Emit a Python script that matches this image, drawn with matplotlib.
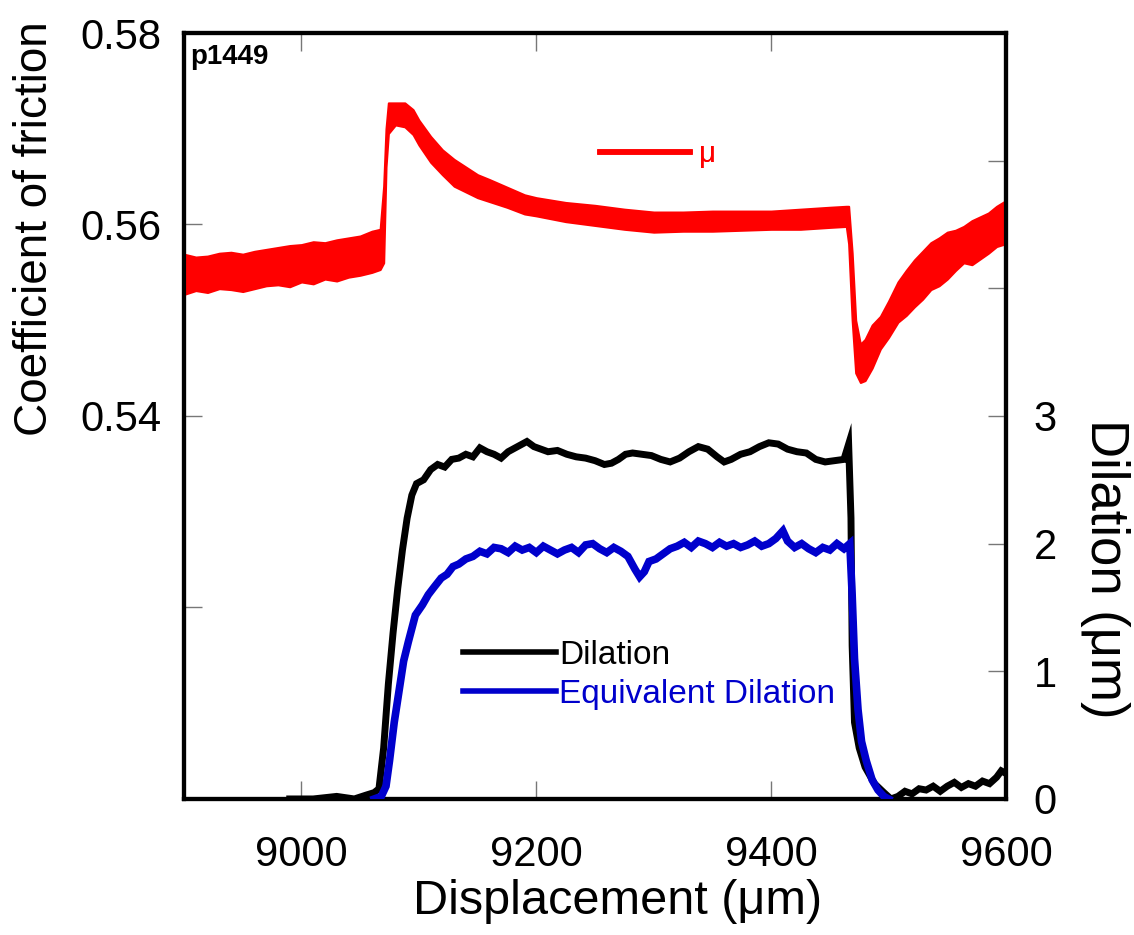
"""Friction / dilation record for p1449 around a velocity step."""

import matplotlib

matplotlib.use("Agg")
import matplotlib.pyplot as plt
from matplotlib.lines import Line2D
from matplotlib.ticker import FixedLocator, FixedFormatter

plt.rcParams["font.family"] = ["Liberation Sans", "DejaVu Sans"]

# coefficient of friction, read as the lower/upper edge of the noisy band
MU_X = [8900, 8910, 8920, 8930, 8940, 8950, 8960, 8970, 8980, 8990, 9000, 9010, 9020, 9030,
        9040, 9050, 9060, 9067, 9070, 9072, 9074, 9080, 9088, 9095, 9100, 9110, 9120, 9130,
        9140, 9150, 9160, 9175, 9190, 9200, 9225, 9250, 9275, 9300, 9325, 9350, 9375, 9400,
        9425, 9450, 9464, 9466, 9469, 9472, 9476, 9480, 9486, 9493, 9500, 9508, 9515, 9522,
        9529, 9536, 9543, 9550, 9557, 9564, 9571, 9578, 9585, 9592, 9600]
MU_LO = [0.5527, 0.5531, 0.5529, 0.5533, 0.5532, 0.5530, 0.5533, 0.5536, 0.5537, 0.5535,
         0.5540, 0.5538, 0.5543, 0.5541, 0.5545, 0.5547, 0.5550, 0.5553, 0.5560, 0.5660,
         0.5695, 0.5704, 0.5702, 0.5694, 0.5683, 0.5665, 0.5652, 0.5640, 0.5634, 0.5628,
         0.5624, 0.5618, 0.5611, 0.5609, 0.5603, 0.5599, 0.5595, 0.5592, 0.5593, 0.5593,
         0.5594, 0.5595, 0.5595, 0.5597, 0.5598, 0.5580, 0.5500, 0.5445, 0.5435, 0.5437,
         0.5450, 0.5470, 0.5482, 0.5498, 0.5505, 0.5514, 0.5522, 0.5532, 0.5536, 0.5543,
         0.5552, 0.5560, 0.5558, 0.5564, 0.5570, 0.5577, 0.5580]
MU_HI = [0.5569, 0.5566, 0.5567, 0.5570, 0.5571, 0.5569, 0.5572, 0.5574, 0.5576, 0.5578,
         0.5579, 0.5582, 0.5581, 0.5584, 0.5586, 0.5588, 0.5593, 0.5595, 0.5640, 0.5700,
         0.5727, 0.5727, 0.5727, 0.5720, 0.5709, 0.5692, 0.5678, 0.5668, 0.5660, 0.5652,
         0.5647, 0.5639, 0.5631, 0.5628, 0.5623, 0.5620, 0.5616, 0.5613, 0.5613, 0.5614,
         0.5614, 0.5614, 0.5616, 0.5618, 0.5619, 0.5619, 0.5570, 0.5500, 0.5475, 0.5480,
         0.5495, 0.5504, 0.5520, 0.5540, 0.5552, 0.5563, 0.5572, 0.5581, 0.5586, 0.5592,
         0.5594, 0.5598, 0.5604, 0.5608, 0.5612, 0.5619, 0.5625]

# measured dilation (um)
DIL_X = [8990, 9010, 9030, 9045, 9055, 9062, 9066, 9070, 9074, 9078, 9082, 9086, 9090, 9094,
         9098, 9104, 9110, 9116, 9122, 9128, 9134, 9140, 9146, 9152, 9158, 9164, 9170, 9176,
         9182, 9188, 9192, 9198, 9204, 9210, 9218, 9226, 9234, 9242, 9250, 9258, 9264, 9270,
         9276, 9282, 9290, 9298, 9306, 9314, 9322, 9330, 9338, 9346, 9354, 9360, 9366, 9374,
         9382, 9390, 9398, 9406, 9414, 9422, 9430, 9438, 9446, 9454, 9462, 9466, 9468, 9469,
         9471, 9475, 9480, 9488, 9496, 9502, 9508, 9514, 9520, 9526, 9532, 9538, 9544, 9550,
         9556, 9562, 9568, 9574, 9580, 9586, 9592, 9596, 9600]
DIL_Y = [0.0, 0.0, 0.02, 0.0, 0.03, 0.05, 0.08, 0.4, 0.9, 1.3, 1.65, 1.95, 2.2, 2.38,
         2.47, 2.5, 2.58, 2.62, 2.6, 2.66, 2.67, 2.7, 2.68, 2.75, 2.72, 2.7, 2.67, 2.72,
         2.75, 2.78, 2.8, 2.76, 2.74, 2.72, 2.73, 2.7, 2.68, 2.67, 2.65, 2.62, 2.63, 2.66,
         2.7, 2.71, 2.7, 2.69, 2.66, 2.64, 2.67, 2.72, 2.76, 2.74, 2.68, 2.64, 2.66, 2.7,
         2.72, 2.76, 2.79, 2.78, 2.74, 2.72, 2.71, 2.66, 2.64, 2.65, 2.66, 2.78, 2.2, 1.2,
         0.6, 0.4, 0.25, 0.12, 0.05, 0.0, 0.02, 0.06, 0.04, 0.08, 0.07, 0.1, 0.06, 0.1,
         0.13, 0.09, 0.12, 0.1, 0.14, 0.12, 0.17, 0.22, 0.2]

# equivalent dilation (um)
EQ_X = [9062, 9068, 9072, 9075, 9079, 9083, 9087, 9091, 9097, 9103, 9108, 9113, 9119, 9124,
        9129, 9134, 9140, 9146, 9152, 9158, 9164, 9170, 9176, 9182, 9188, 9194, 9200, 9206,
        9212, 9218, 9224, 9230, 9236, 9242, 9248, 9254, 9260, 9266, 9272, 9278, 9284, 9288,
        9292, 9296, 9302, 9308, 9314, 9320, 9326, 9332, 9338, 9344, 9350, 9356, 9362, 9368,
        9374, 9380, 9386, 9392, 9398, 9404, 9410, 9414, 9420, 9426, 9432, 9438, 9444, 9450,
        9456, 9462, 9467, 9469, 9471, 9474, 9477, 9481, 9486, 9491, 9496, 9500]
EQ_Y = [0.0, 0.02, 0.1, 0.3, 0.6, 0.84, 1.08, 1.23, 1.44, 1.52, 1.6, 1.66, 1.73, 1.76,
        1.82, 1.84, 1.88, 1.9, 1.94, 1.92, 1.97, 1.96, 1.93, 1.98, 1.95, 1.97, 1.93, 1.98,
        1.95, 1.92, 1.95, 1.97, 1.93, 1.99, 2.0, 1.96, 1.93, 1.97, 1.94, 1.9, 1.8, 1.74,
        1.78, 1.86, 1.88, 1.92, 1.96, 1.98, 2.01, 1.97, 2.02, 2.0, 1.97, 2.01, 1.98, 2.0,
        1.97, 1.99, 2.02, 1.98, 2.0, 2.04, 2.1, 2.02, 1.97, 2.0, 1.96, 1.93, 1.97, 1.95,
        2.0, 1.96, 2.0, 1.6, 1.1, 0.7, 0.45, 0.3, 0.15, 0.07, 0.02, 0.0]

X_TICKS = [9000, 9200, 9400, 9600]
MU_TICKS = [0.50, 0.52, 0.54, 0.56, 0.58]
MU_TICK_LABELS = ["", "", "0.54", "0.56", "0.58"]
DIL_TICKS = [0, 1, 2, 3, 4, 5, 6]
DIL_TICK_LABELS = ["0", "1", "2", "3", "", "", ""]

RED = "#FF0000"
BLUE = "#0000CC"
TICK_KW = dict(direction="in", length=13, width=1.0, color="#777777", labelsize=30)


def main() -> None:
    fig = plt.figure(figsize=(11.34, 9.35), dpi=100)
    ax = fig.add_axes([0.1623, 0.1455, 0.7248, 0.8192])
    ax2 = ax.twinx()

    ax.fill_between(MU_X, MU_LO, MU_HI, color=RED, linewidth=1.5, edgecolor=RED, zorder=3)
    ax2.plot(DIL_X, DIL_Y, color="black", linewidth=5, solid_joinstyle="miter", zorder=3)
    ax2.plot(EQ_X, EQ_Y, color=BLUE, linewidth=5.5, solid_joinstyle="miter", zorder=4)

    ax.set_xlim(8900, 9600)
    ax.set_ylim(0.50, 0.58)
    ax2.set_ylim(0, 6)

    ax.xaxis.set_major_locator(FixedLocator(X_TICKS))
    ax.yaxis.set_major_locator(FixedLocator(MU_TICKS))
    ax.yaxis.set_major_formatter(FixedFormatter(MU_TICK_LABELS))
    ax2.yaxis.set_major_locator(FixedLocator(DIL_TICKS))
    ax2.yaxis.set_major_formatter(FixedFormatter(DIL_TICK_LABELS))

    ax.tick_params(axis="x", top=True, pad=26, **TICK_KW)
    ax.tick_params(axis="y", pad=16, **TICK_KW)
    ax2.tick_params(axis="y", pad=20, **TICK_KW)
    for axis in (ax, ax2):
        for spine in axis.spines.values():
            spine.set_linewidth(3)

    ax.set_xlabel("Displacement (\u03bcm)", fontsize=35)
    ax.xaxis.set_label_coords(0.527, -0.105)
    ax.set_ylabel("Coefficient of friction", fontsize=33)
    ax.yaxis.set_label_coords(-0.155, 0.745)
    ax2.set_ylabel("Dilation (\u03bcm)", fontsize=38, rotation=270, va="center")
    ax2.yaxis.set_label_coords(1.12, 0.30)

    ax.text(0.008, 0.985, "p1449", transform=ax.transAxes, fontsize=20,
            fontweight="bold", ha="left", va="top")

    mu_leg = ax.legend([Line2D([], [], color=RED, lw=4)], ["\u03bc"], loc="center left",
                       bbox_to_anchor=(0.506, 0.842), frameon=False, fontsize=21,
                       handlelength=3.1, handletextpad=0.3, borderpad=0, borderaxespad=0,
                       labelcolor=RED)
    ax.add_artist(mu_leg)

    ax2.legend([Line2D([], [], color="black", lw=4), Line2D([], [], color=BLUE, lw=4)],
               ["Dilation", "Equivalent Dilation"], loc="center left",
               bbox_to_anchor=(0.339, 0.162), frameon=False, fontsize=24,
               handlelength=2.8, handletextpad=0.1, labelspacing=0.25, borderpad=0,
               borderaxespad=0, labelcolor=["black", BLUE])

    fig.savefig("out.png", dpi=100)
    plt.close(fig)


if __name__ == "__main__":
    main()
